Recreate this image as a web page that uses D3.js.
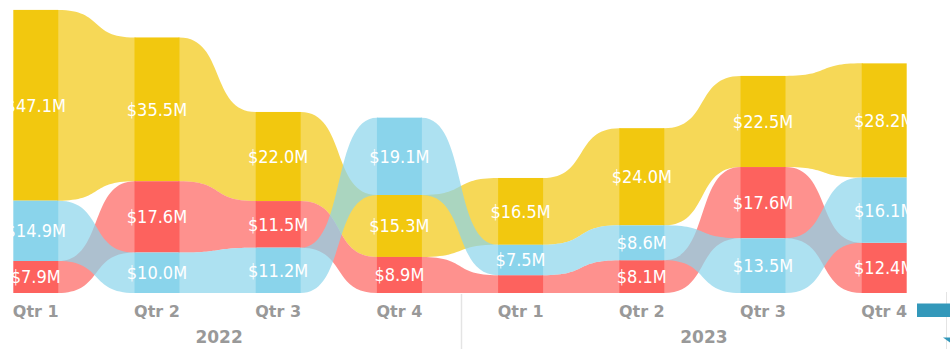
<!DOCTYPE html>
<html>
<head>
<meta charset="utf-8">
<script src="https://cdn.jsdelivr.net/npm/d3@7"></script>
<style>
  html, body { margin: 0; padding: 0; background: #ffffff; }
  svg { display: block; }
  .value-label { font-family: "DejaVu Sans Condensed", "DejaVu Sans", sans-serif; font-stretch: condensed; font-size: 18px; fill: #ffffff; }
  .axis text { font-family: "DejaVu Sans", sans-serif; font-weight: bold; font-size: 16px; fill: #999999; }
  .year-label { font-family: "DejaVu Sans", sans-serif; font-weight: bold; font-size: 17px; fill: #999999; }
</style>
</head>
<body>
<svg id="chart" width="950" height="349"></svg>
<script>
// Quarterly categories and their year groups
const quarters = ["Qtr 1", "Qtr 2", "Qtr 3", "Qtr 4", "Qtr 1", "Qtr 2", "Qtr 3", "Qtr 4"];
const years = ["2022", "2023"];
const yearOfQuarter = ["2022", "2022", "2022", "2022", "2023", "2023", "2023", "2023"];

// Series values, in $M
const goldValues  = [47.1, 35.5, 22.0, 15.3, 16.5, 24.0, 22.5, 28.2];
const coralValues = [7.9, 17.6, 11.5, 8.9, 4.4, 8.1, 17.6, 12.4];
const skyValues   = [14.9, 10.0, 11.2, 19.1, 7.5, 8.6, 13.5, 16.1];

const seriesKeys = ["gold", "coral", "sky"];
const seriesColors = { gold: "#F2C80F", coral: "#FD625E", sky: "#8AD4EB" };
const seriesValues = { gold: goldValues, coral: coralValues, sky: skyValues };

const width = 950, height = 349;
const baseY = 293;

const svg = d3.select("#chart");

const idx = d3.range(quarters.length);
const x = d3.scaleBand()
  .domain(idx)
  .range([13.3, 906.7])
  .paddingInner(0.629)
  .paddingOuter(0);
const bw = x.bandwidth();

const y = d3.scaleLinear().domain([0, 70]).range([baseY, 9.5]);

// Ribbon layout: at every quarter the largest series sits on top
const layout = idx.map(i => {
  const ranked = seriesKeys
    .map(k => ({ key: k, value: seriesValues[k][i] }))
    .sort((a, b) => a.value - b.value); // smallest first (bottom)
  let acc = 0;
  const pos = {};
  ranked.forEach(r => {
    pos[r.key] = { y0: acc, y1: acc + r.value, value: r.value };
    acc += r.value;
  });
  return pos;
});

// Smooth S-shaped ribbon between two bar edges
const k = 0.6;
function ribbonPath(xa, ta, ba, xb, tb, bb) {
  const c = (xb - xa) * k;
  const p = d3.path();
  p.moveTo(xa - 1, ta);
  p.lineTo(xa, ta);
  p.bezierCurveTo(xa + c, ta, xb - c, tb, xb, tb);
  p.lineTo(xb + 1, tb);
  p.lineTo(xb + 1, bb);
  p.lineTo(xb, bb);
  p.bezierCurveTo(xb - c, bb, xa + c, ba, xa, ba);
  p.lineTo(xa - 1, ba);
  p.closePath();
  return p.toString();
}

const ribbons = svg.append("g").attr("class", "ribbons");
seriesKeys.forEach(key => {
  const links = idx.slice(0, -1).map(i => ({ key, i }));
  ribbons.selectAll(null)
    .data(links)
    .join("path")
    .attr("d", d => {
      const a = layout[d.i][key], b = layout[d.i + 1][key];
      return ribbonPath(
        x(d.i) + bw, y(a.y1), y(a.y0),
        x(d.i + 1), y(b.y1), y(b.y0)
      );
    })
    .attr("fill", seriesColors[key])
    .attr("fill-opacity", 0.7);
});

// Bars
const segments = [];
idx.forEach(i => seriesKeys.forEach(key => segments.push({ i, key, ...layout[i][key] })));

svg.append("g").attr("class", "bars")
  .selectAll("rect")
  .data(segments)
  .join("rect")
  .attr("x", d => x(d.i))
  .attr("width", bw)
  .attr("y", d => y(d.y1))
  .attr("height", d => y(d.y0) - y(d.y1))
  .attr("fill", d => seriesColors[d.key]);

// Value labels (hidden when the segment is too thin)
const fmt = d3.format(".1f");
svg.append("g").attr("class", "labels")
  .selectAll("text")
  .data(segments.filter(d => y(d.y0) - y(d.y1) >= 22))
  .join("text")
  .attr("class", "value-label")
  .attr("x", d => x(d.i) + bw / 2)
  .attr("y", d => (y(d.y0) + y(d.y1)) / 2)
  .attr("dy", "0.36em")
  .attr("text-anchor", "middle")
  .text(d => "$" + fmt(d.value) + "M");

// Category axis
const axis = d3.axisBottom(x)
  .tickFormat(i => quarters[i])
  .tickSize(0)
  .tickPadding(12.3);
const gAxis = svg.append("g")
  .attr("class", "axis")
  .attr("transform", `translate(0,${baseY})`)
  .call(axis);
gAxis.select(".domain").remove();
gAxis.selectAll("text").attr("fill", "#999999");

// Year group labels
years.forEach(yr => {
  const members = idx.filter(i => yearOfQuarter[i] === yr);
  const cx = (x(members[0]) + x(members[members.length - 1]) + bw) / 2;
  svg.append("text")
    .attr("class", "year-label")
    .attr("x", cx + 1.5)
    .attr("y", 343)
    .attr("text-anchor", "middle")
    .text(yr);
});

// Divider between year groups
const lastOf2022 = d3.max(idx.filter(i => yearOfQuarter[i] === "2022"));
const divX = (x(lastOf2022) + bw + x(lastOf2022 + 1)) / 2 + 1.5;
svg.append("line")
  .attr("x1", divX).attr("x2", divX)
  .attr("y1", 294).attr("y2", height)
  .attr("stroke", "#e4e4e4")
  .attr("stroke-width", 1.5);

// Horizontal scroll control on the right edge
svg.append("line")
  .attr("x1", 946.5).attr("x2", 946.5)
  .attr("y1", 292).attr("y2", height)
  .attr("stroke", "#e4e4e4")
  .attr("stroke-width", 1);
svg.append("rect")
  .attr("x", 917).attr("y", 303.5)
  .attr("width", 33).attr("height", 13.5)
  .attr("fill", "#3398BA");
svg.append("path")
  .attr("d", "M943,337.5L950,337.5L950,342.5Z")
  .attr("fill", "#3398BA");
</script>
</body>
</html>
